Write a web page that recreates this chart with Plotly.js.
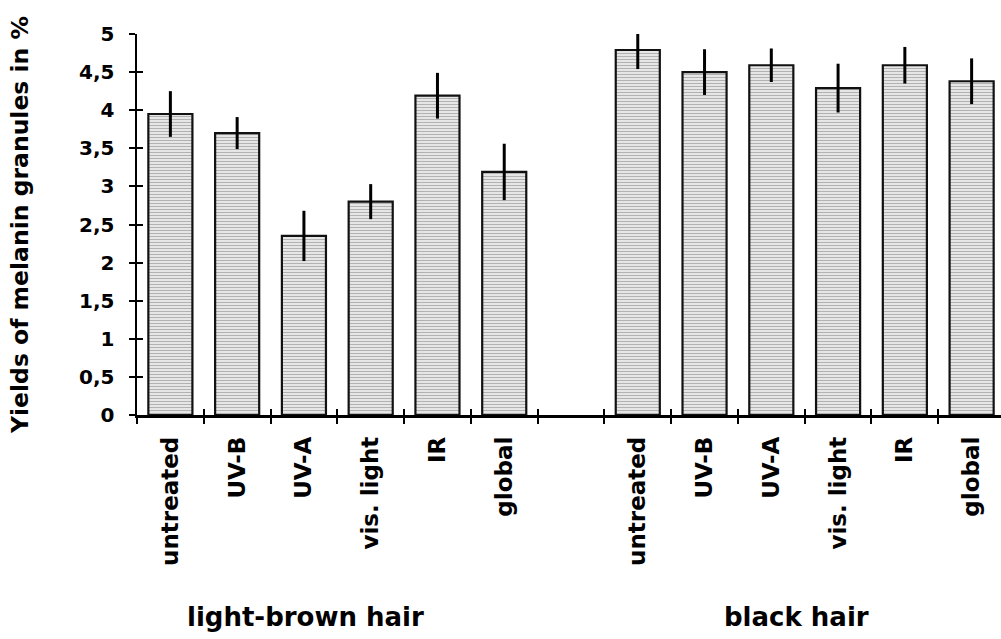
<!DOCTYPE html>
<html>
<head>
<meta charset="utf-8">
<script src="https://cdn.plot.ly/plotly-3.0.1.min.js"></script>
<style>
  html, body { margin: 0; padding: 0; background: #fff; }
  #chart { width: 1001px; height: 639px; }
</style>
</head>
<body>
<div id="chart"></div>
<script>
// ---- data ----
const treatments = ["untreated", "UV-B", "UV-A", "vis. light", "IR", "global"];
const groups = ["light-brown hair", "black hair"];
const lightBrownValues = [3.95, 3.70, 2.35, 2.80, 4.19, 3.19];
const lightBrownErrors = [0.30, 0.21, 0.33, 0.23, 0.30, 0.37];
const blackValues = [4.79, 4.50, 4.59, 4.29, 4.59, 4.38];
const blackErrors = [0.25, 0.30, 0.22, 0.32, 0.24, 0.30];
const yTickVals = [0, 0.5, 1, 1.5, 2, 2.5, 3, 3.5, 4, 4.5, 5];
const yTickText = ["0", "0,5", "1", "1,5", "2", "2,5", "3", "3,5", "4", "4,5", "5"];

// category ids (unique per group) with an empty slot between groups
const lbIds = treatments.map(t => groups[0] + "|" + t);
const bkIds = treatments.map(t => groups[1] + "|" + t);
const gapId = "gap";
const categoryOrder = [...lbIds, gapId, ...bkIds];
const categoryText = [...treatments, "", ...treatments];

const FONT = "DejaVu Sans, Arial, sans-serif";

function barTrace(ids, vals, errs, name) {
  return {
    type: "bar",
    name: name,
    x: ids,
    y: vals,
    marker: {
      color: "#dadada",
      line: { color: "#111", width: 2.2 },
      pattern: { shape: "-", fgcolor: "#a0a0a0", bgcolor: "#e6e6e6", size: 3, solidity: 0.25 }
    },
    error_y: { type: "data", array: errs, visible: true, color: "#000", thickness: 3, width: 0 },
    showlegend: false,
    hoverinfo: "skip"
  };
}

const data = [
  barTrace(lbIds, lightBrownValues, lightBrownErrors, groups[0]),
  barTrace(bkIds, blackValues, blackErrors, groups[1]),
  // transparent twin so the overlay axes (inner tick halves) are drawn
  {
    type: "bar",
    x: [...lbIds, ...bkIds],
    y: [...lightBrownValues, ...blackValues],
    xaxis: "x2",
    yaxis: "y2",
    marker: { color: "rgba(0,0,0,0)", line: { width: 0 } },
    showlegend: false,
    hoverinfo: "skip"
  }
];

const layout = {
  width: 1001,
  height: 639,
  paper_bgcolor: "#fff",
  plot_bgcolor: "#fff",
  margin: { l: 137, r: 0, t: 34, b: 224 },
  barmode: "overlay",
  bargap: 0.34,
  font: { family: FONT, color: "#000" },
  xaxis: {
    type: "category",
    categoryorder: "array",
    categoryarray: categoryOrder,
    tickmode: "array",
    tickvals: categoryOrder,
    ticktext: categoryText,
    tickson: "boundaries",
    range: [-0.5, 12.44],
    tickangle: -90,
    ticks: "outside",
    ticklen: 6,
    tickwidth: 2,
    tickcolor: "#000",
    ticklabelstandoff: 10,
    tickfont: { family: FONT, size: 23, color: "#000", weight: "bold" },
    showline: true,
    linecolor: "#000",
    linewidth: 2.5,
    showgrid: false,
    zeroline: false,
    fixedrange: true
  },
  xaxis2: {
    type: "category",
    overlaying: "x",
    side: "bottom",
    anchor: "y2",
    categoryorder: "array",
    categoryarray: categoryOrder,
    tickmode: "array",
    tickvals: categoryOrder,
    ticktext: categoryText,
    tickson: "boundaries",
    range: [-0.5, 12.44],
    ticks: "inside",
    ticklen: 6,
    tickwidth: 2,
    tickcolor: "#000",
    showticklabels: false,
    showline: false,
    showgrid: false,
    zeroline: false
  },
  yaxis: {
    range: [0, 5],
    tickmode: "array",
    tickvals: yTickVals,
    ticktext: yTickText,
    ticks: "outside",
    ticklen: 6,
    tickwidth: 2,
    tickcolor: "#000",
    ticklabelstandoff: 10,
    tickfont: { family: FONT, size: 20, color: "#000", weight: "bold" },
    showline: true,
    linecolor: "#000",
    linewidth: 2.5,
    showgrid: false,
    zeroline: false,
    title: {
      text: "Yields of melanin granules in %",
      font: { family: FONT, size: 23.5, color: "#000", weight: "bold" },
      standoff: 44
    },
    automargin: false,
    fixedrange: true
  },
  yaxis2: {
    overlaying: "y",
    side: "left",
    anchor: "x2",
    range: [0, 5],
    tickmode: "array",
    tickvals: yTickVals,
    ticks: "inside",
    ticklen: 6,
    tickwidth: 2,
    tickcolor: "#000",
    showticklabels: false,
    showline: false,
    showgrid: false,
    zeroline: false
  },
  annotations: [
    {
      text: groups[0], xref: "paper", yref: "paper",
      x: (305 - 137) / 864, y: -(617 - 415) / 381,
      xanchor: "center", yanchor: "middle", showarrow: false,
      font: { family: FONT, size: 26, color: "#000", weight: "bold" }
    },
    {
      text: groups[1], xref: "paper", yref: "paper",
      x: (796 - 137) / 864, y: -(617 - 415) / 381,
      xanchor: "center", yanchor: "middle", showarrow: false,
      font: { family: FONT, size: 26, color: "#000", weight: "bold" }
    }
  ]
};

Plotly.newPlot("chart", data, layout, { displayModeBar: false, staticPlot: true });
</script>
</body>
</html>
